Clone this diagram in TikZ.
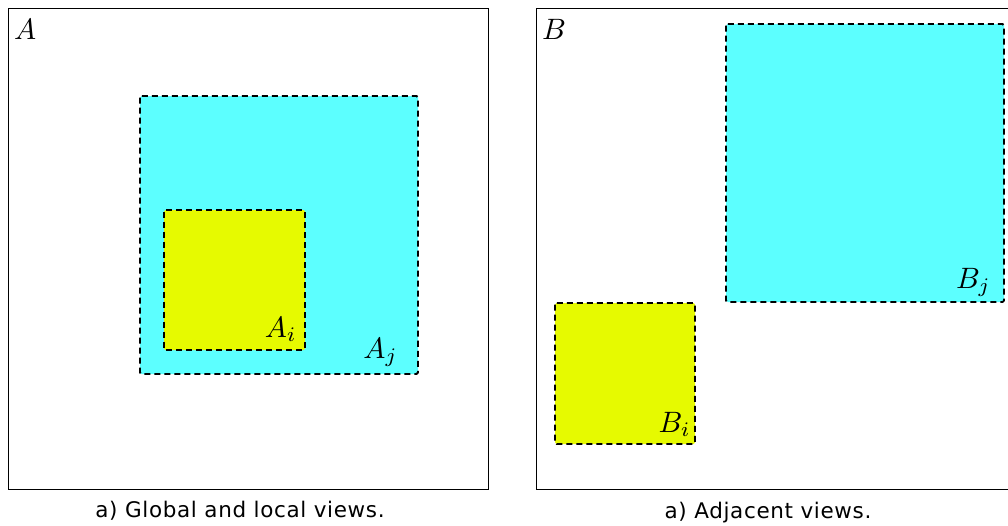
\documentclass[tikz,border=0pt]{standalone}
\usepackage{fontspec}
\usepackage{graphicx}
\newfontfamily\capfont[LetterSpace=3]{DejaVu Sans}
\newcommand{\biglbl}[1]{\scalebox{2.95}{$#1$}}
\begin{document}
\begin{tikzpicture}[x=1pt,y=-1pt,
  outer/.style={draw=black,line width=1pt,inner sep=0pt},
  view/.style={draw=black,line width=1.8pt,dash pattern=on 6pt off 4pt,rounded corners=1.5pt,inner sep=0pt},
  cyanv/.style={view,fill=cyanfill},
  yellowv/.style={view,fill=yellowfill},
  lbl/.style={inner sep=0pt},
  captxt/.style={font=\capfont\fontsize{21.5}{25}\selectfont,inner sep=0pt,anchor=base}]
\definecolor{cyanfill}{RGB}{92,255,255}
\definecolor{yellowfill}{RGB}{230,250,0}
\useasboundingbox (0,0) rectangle (1008,525);
% left panel
\draw[outer] (8,8) rectangle (488,489);
\node[lbl,anchor=base west] (la) at (14,39) {\biglbl{A}};
\draw[cyanv] (140,96) rectangle (418,374);
\draw[yellowv] (164,210) rectangle (305,350);
\node[lbl,anchor=base east] (lai) at (297,337) {\biglbl{A_i}};
\node[lbl,anchor=base east] (laj) at (398,358) {\biglbl{A_j}};
\node[captxt] (capa) at (240,517) {a) Global and local views.};
% right panel
\draw[outer] (536,8) -- (1010,8) (536,8) -- (536,489) -- (1010,489);
\node[lbl,anchor=base west] (lb) at (542,39) {\biglbl{B}};
\draw[cyanv] (726,24) rectangle (1004,302);
\draw[yellowv] (555,303) rectangle (695,444);
\node[lbl,anchor=base east] (lbj) at (991,288) {\biglbl{B_j}};
\node[lbl,anchor=base east] (lbi) at (691,432) {\biglbl{B_i}};
\node[captxt] (capb) at (768,518) {a) Adjacent views.};
\end{tikzpicture}
\end{document}
